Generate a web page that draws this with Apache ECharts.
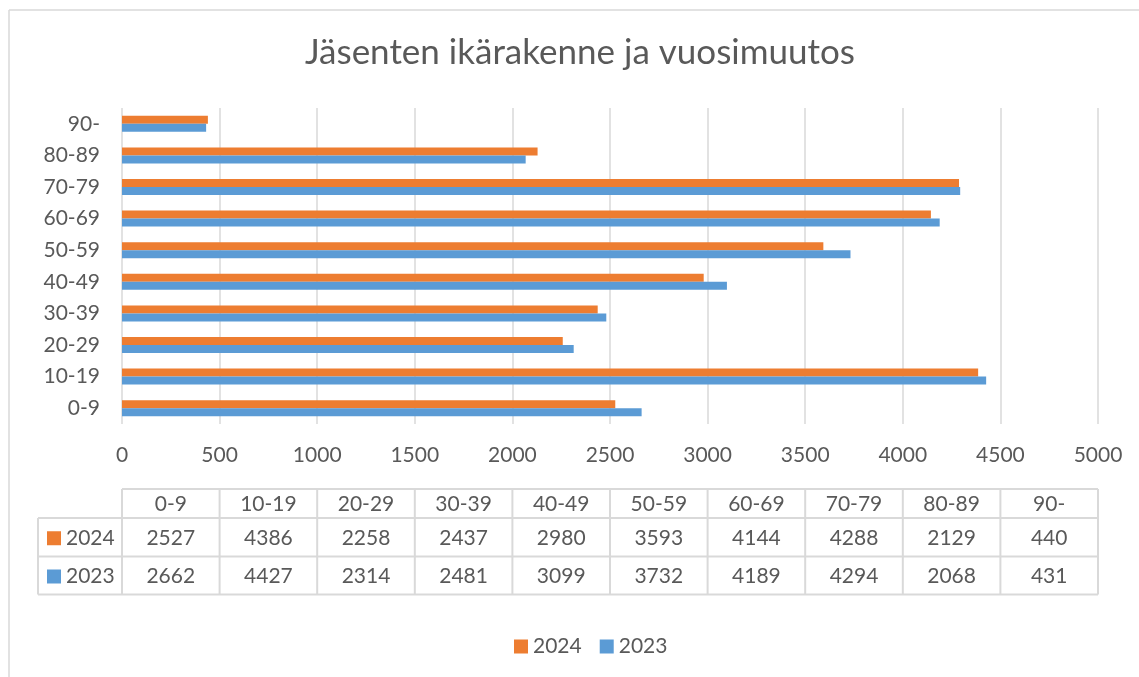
<!DOCTYPE html>
<html>
<head>
<meta charset="utf-8">
<script src="https://cdn.jsdelivr.net/npm/echarts@6/dist/echarts.min.js"></script>
<style>
html,body{margin:0;padding:0;background:#fff;}
#chart{width:1139px;height:677px;}
</style>
</head>
<body>
<div id="chart"></div>
<script>
// ---- data ----
const title = 'Jäsenten ikärakenne ja vuosimuutos';
const categories = ['0-9','10-19','20-29','30-39','40-49','50-59','60-69','70-79','80-89','90-'];
const seriesNames = ['2024','2023'];
const values2024 = [2527,4386,2258,2437,2980,3593,4144,4288,2129,440];
const values2023 = [2662,4427,2314,2481,3099,3732,4189,4294,2068,431];
const axisMax = 5000;
const axisInterval = 500;

// ---- styling ----
const FONT = 'Lato, "Open Sans", sans-serif';
const FS = 21;
const TXT = '#595959';
const LINE = '#D9D9D9';
const COLORS = {'2024':'#ED7D31','2023':'#5B9BD5'};
const GRID_LEFT = 122, GRID_TOP = 108, GRID_W = 976, GRID_H = 316;

const chart = echarts.init(document.getElementById('chart'), null, {renderer:'canvas'});

function buildTable() {
  const els = [];
  const n = categories.length;
  const colW = GRID_W / n;
  const headTop = 489, row1 = 518, row2 = 556.5, bottom = 594.5;
  const leftX = 38;
  const rows = [
    {name: seriesNames[0], vals: values2024, top: row1, bot: row2},
    {name: seriesNames[1], vals: values2023, top: row2, bot: bottom}
  ];
  const lineStyle = {stroke: LINE, lineWidth: 2};
  const font = FS + 'px ' + FONT;
  els.push({type:'line', shape:{x1:GRID_LEFT, y1:headTop, x2:GRID_LEFT+GRID_W, y2:headTop}, style:lineStyle, silent:true});
  [row1, row2, bottom].forEach(y => {
    els.push({type:'line', shape:{x1:leftX, y1:y, x2:GRID_LEFT+GRID_W, y2:y}, style:lineStyle, silent:true});
  });
  els.push({type:'line', shape:{x1:leftX, y1:row1, x2:leftX, y2:bottom}, style:lineStyle, silent:true});
  for (let i = 0; i <= n; i++) {
    const x = GRID_LEFT + i*colW;
    els.push({type:'line', shape:{x1:x, y1:headTop, x2:x, y2:bottom}, style:lineStyle, silent:true});
  }
  categories.forEach((c, i) => {
    els.push({type:'text', x: GRID_LEFT + (i+0.5)*colW, y:(headTop+row1)/2+1,
      style:{text:c, fill:TXT, font:font, align:'center', verticalAlign:'middle'}, silent:true});
  });
  rows.forEach(r => {
    const cy = (r.top + r.bot)/2 + 1;
    els.push({type:'rect', shape:{x:47, y:cy-7, width:14, height:14}, style:{fill:COLORS[r.name]}, silent:true});
    els.push({type:'text', x:66, y:cy, style:{text:r.name, fill:TXT, font:font, align:'left', verticalAlign:'middle'}, silent:true});
    r.vals.forEach((v, i) => {
      els.push({type:'text', x: GRID_LEFT + (i+0.5)*colW, y: cy,
        style:{text:String(v), fill:TXT, font:font, align:'center', verticalAlign:'middle'}, silent:true});
    });
  });
  els.push({type:'line', shape:{x1:9, y1:10, x2:1139, y2:10}, style:{stroke:LINE, lineWidth:1.5}, silent:true});
  els.push({type:'line', shape:{x1:9, y1:10, x2:9, y2:677}, style:{stroke:LINE, lineWidth:1.5}, silent:true});
  // title
  els.push({type:'text', x:580, y:53, style:{text:title, fill:TXT, font:'35px '+FONT, align:'center', verticalAlign:'middle'}, silent:true});
  return els;
}

const option = {
  animation: false,
  textStyle: {fontFamily: FONT},
  legend: {
    data: seriesNames, bottom: 15, left: 509,
    itemWidth: 14, itemHeight: 14, itemGap: 18,
    icon: 'rect',
    textStyle: {fontFamily: FONT, fontSize: FS, color: TXT}
  },
  grid: {left: GRID_LEFT, top: GRID_TOP, width: GRID_W, height: GRID_H, containLabel: false},
  xAxis: {
    type: 'value', min: 0, max: axisMax, interval: axisInterval,
    axisLine: {show:false}, axisTick: {show:false},
    splitLine: {show:true, lineStyle:{color: LINE, width: 1.5}},
    axisLabel: {fontFamily: FONT, fontSize: FS, color: TXT, margin: 21,
      formatter: v => String(v)}
  },
  yAxis: {
    type: 'category', data: categories,
    axisLine: {show:false}, axisTick: {show:false},
    axisLabel: {fontFamily: FONT, fontSize: FS, color: TXT, margin: 22}
  },
  series: [
    {name: seriesNames[0], type: 'bar', data: values2024, barWidth: 8, barGap: '0%',
     itemStyle: {color: COLORS['2024']}},
    {name: seriesNames[1], type: 'bar', data: values2023, barWidth: 8, barGap: '0%',
     itemStyle: {color: COLORS['2023']}}
  ],
  graphic: buildTable()
};
chart.setOption(option);
</script>
</body>
</html>
